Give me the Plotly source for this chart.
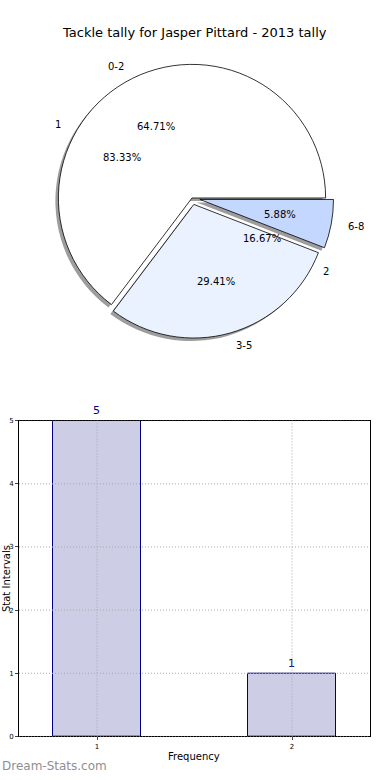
import math
import plotly.graph_objects as go

# ---------------- data ----------------
chart_title = "Tackle tally for Jasper Pittard - 2013 tally"

interval_labels = ["0-2", "3-5", "6-8"]
interval_counts = [11, 5, 1]
interval_colors = ["#ffffff", "#eaf1ff", "#c4d8ff"]
interval_pull = [0.0, 0.05, 0.06]

freq_labels = ["1", "2"]
freq_counts = [5, 1]
freq_colors = ["#ffffff", "#ffffff"]

bar_x = [1, 2]
bar_y = [5, 1]
x_tick_vals = [1, 2]
y_tick_vals = [0, 1, 2, 3, 4, 5]

# ---------------- layout constants ----------------
W, H = 390, 780
FONT = "DejaVu Sans"
CX, CY, R = 192, 196, 135          # pie centre / radius in pixels
SHADOW = 3                          # shadow offset in pixels


def px2paper(x, y):
    return x / W, 1 - y / H


def square_domain(cx, cy, half):
    x0, y1 = px2paper(cx - half, cy - half)
    x1, y0 = px2paper(cx + half, cy + half)
    return dict(x=[x0, x1], y=[y0, y1])


def ccw_rotation(values):
    # plotly places the first slice clockwise from `rotation` when direction is
    # counterclockwise; shift so the first slice starts at 3 o'clock going ccw
    return 90 - 360.0 * values[0] / sum(values)


fig = go.Figure()

max_pull = max(interval_pull)

# underlying (hidden) frequency pie
fig.add_trace(go.Pie(
    labels=freq_labels, values=freq_counts, sort=False,
    direction="counterclockwise", rotation=ccw_rotation(freq_counts),
    marker=dict(colors=freq_colors, line=dict(color="#ffffff", width=0)),
    textinfo="none", hoverinfo="skip", showlegend=False,
    domain=square_domain(CX, CY, R),
))

# shadow of the interval pie
fig.add_trace(go.Pie(
    labels=interval_labels, values=interval_counts, sort=False,
    direction="counterclockwise", rotation=ccw_rotation(interval_counts),
    pull=interval_pull,
    marker=dict(colors=["rgba(60,60,60,0.5)"] * len(interval_counts),
                line=dict(width=0)),
    textinfo="none", hoverinfo="skip", showlegend=False,
    domain=square_domain(CX - SHADOW, CY + SHADOW, R * (1 + max_pull)),
))

# main interval pie
fig.add_trace(go.Pie(
    labels=interval_labels, values=interval_counts, sort=False,
    direction="counterclockwise", rotation=ccw_rotation(interval_counts),
    pull=interval_pull,
    marker=dict(colors=interval_colors, line=dict(color="#000000", width=0.8)),
    textinfo="none", hoverinfo="skip", showlegend=False,
    domain=square_domain(CX, CY, R * (1 + max_pull)),
))

annotations = []


def pie_text(labels, values, pulls):
    total = sum(values)
    cum = 0
    for lab, v, p in zip(labels, values, pulls):
        a0 = cum / total * 2 * math.pi
        cum += v
        a1 = cum / total * 2 * math.pi
        mid = (a0 + a1) / 2
        dx, dy = math.cos(mid), -math.sin(mid)
        # percentage
        x, y = px2paper(CX + (p + 0.6) * R * dx, CY + (p + 0.6) * R * dy)
        annotations.append(dict(x=x, y=y, xref="paper", yref="paper",
                                text="%.2f%%" % (100.0 * v / total),
                                showarrow=False, xanchor="center", yanchor="middle",
                                font=dict(family=FONT, size=10, color="#000000")))
        # label
        x, y = px2paper(CX + (p + 1.1) * R * dx, CY + (p + 1.1) * R * dy)
        annotations.append(dict(x=x, y=y, xref="paper", yref="paper", text=lab,
                                showarrow=False,
                                xanchor="left" if dx > 0 else "right", yanchor="middle",
                                font=dict(family=FONT, size=10, color="#000000")))


pie_text(interval_labels, interval_counts, interval_pull)
pie_text(freq_labels, freq_counts, [0.0] * len(freq_counts))

# ---------------- bar chart ----------------
fig.add_trace(go.Bar(
    x=bar_x, y=bar_y, width=0.45,
    marker=dict(color="#cdcde6", line=dict(color="#000080", width=1)),
    text=[str(v) for v in bar_y], textposition="outside", cliponaxis=False,
    textfont=dict(family=FONT, size=11, color="#000080"),
    hoverinfo="skip", showlegend=False,
))

ax_x0, ax_x1 = 19, 370
ax_y0, ax_y1 = 421, 740
xd0, _ = px2paper(ax_x0, 0)
xd1, _ = px2paper(ax_x1, 0)
_, yd1 = px2paper(0, ax_y0)
_, yd0 = px2paper(0, ax_y1)

GRID = dict(color="#a8a8a8", width=1, dash="1px,2px")
shapes = []
for v in y_tick_vals:
    shapes.append(dict(type="line", xref="x domain", yref="y", x0=0, x1=1, y0=v, y1=v,
                       line=GRID, layer="above"))
for v in x_tick_vals:
    shapes.append(dict(type="line", xref="x", yref="y domain", x0=v, x1=v, y0=0, y1=1,
                       line=GRID, layer="above"))

# titles / texts
tx, ty = px2paper(194, 29)
annotations.append(dict(x=tx, y=ty, xref="paper", yref="paper", text=chart_title,
                        showarrow=False, xanchor="center", yanchor="middle",
                        font=dict(family=FONT, size=13, color="#000000")))
fx, fy = px2paper(194, 760)
annotations.append(dict(x=fx, y=fy, xref="paper", yref="paper", text="Frequency",
                        showarrow=False, xanchor="center", yanchor="middle",
                        font=dict(family=FONT, size=10, color="#000000")))
sx, sy = px2paper(6, 581)
annotations.append(dict(x=sx, y=sy, xref="paper", yref="paper", text="Stat Intervals",
                        showarrow=False, xanchor="center", yanchor="middle", textangle=-90,
                        font=dict(family=FONT, size=10, color="#000000")))
wx, wy = px2paper(0, 770)
annotations.append(dict(x=wx, y=wy, xref="paper", yref="paper", text="Dream-Stats.com",
                        showarrow=False, xanchor="left", yanchor="middle",
                        font=dict(family=FONT, size=12, color="#8f8f8f")))

fig.update_layout(
    width=W, height=H,
    margin=dict(l=0, r=0, t=0, b=0),
    paper_bgcolor="#ffffff", plot_bgcolor="#ffffff",
    showlegend=False,
    font=dict(family=FONT, size=10, color="#000000"),
    xaxis=dict(domain=[xd0, xd1], range=[0.6, 2.4], tickvals=x_tick_vals,
               showgrid=False, zeroline=False, showline=True, mirror=True,
               linecolor="#000000", linewidth=1, ticks="outside", ticklen=3,
               tickfont=dict(family=FONT, size=7), fixedrange=True),
    yaxis=dict(domain=[yd0, yd1], range=[0, 5], tickvals=y_tick_vals,
               showgrid=False, zeroline=False, showline=True, mirror=True,
               linecolor="#000000", linewidth=1, ticks="outside", ticklen=3,
               tickfont=dict(family=FONT, size=7), fixedrange=True),
    shapes=shapes,
    annotations=annotations,
    bargap=0,
)

fig.write_html(
    "out.html",
    config={"displayModeBar": False},
    post_script="document.body.style.margin='0';document.documentElement.style.overflow='hidden';",
)
